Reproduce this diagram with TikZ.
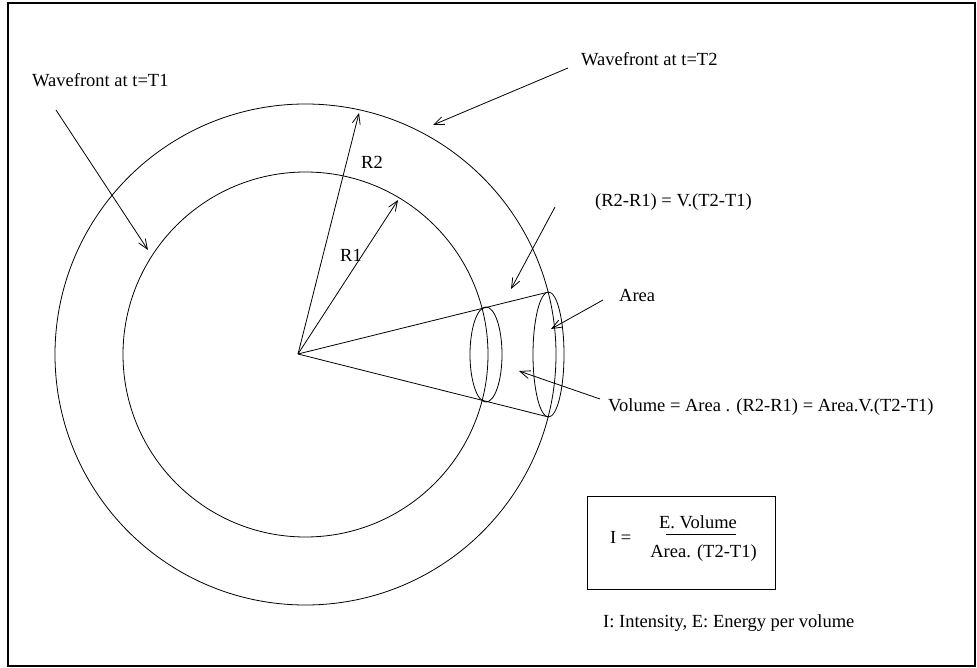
\documentclass[tikz,border=0pt]{standalone}
\usepackage{fontspec}
\setmainfont{Liberation Serif}
\usetikzlibrary{arrows.meta, positioning}
\tikzset{
  lbl/.style={inner sep=0pt, font=\fontsize{18.5}{22}\selectfont, text=black},
  ptr/.style={-{Straight Barb[length=10pt, width=8pt]}, line width=0.8pt},
  wire/.style={line width=0.8pt},
  formulabox/.style={rectangle, draw, line width=0.9pt, minimum width=188pt, minimum height=93pt, inner sep=0pt}
}

\begin{document}
\begin{tikzpicture}[x=1pt, y=-1pt]
\useasboundingbox (0,0) rectangle (977,668);

% ── Frame ─────────────────────────────────────────────
\draw[line width=1.2pt] (8,3) rectangle (975,666);

% ── Wavefronts ────────────────────────────────────────
\coordinate (ctr)  at (305.5, 354.5);
\coordinate (apex) at (298, 354);
\draw[wire] (ctr) circle[radius=182.5pt];
\draw[wire] (ctr) circle[radius=250.5pt];

% ── Radii ─────────────────────────────────────────────
\coordinate (r2tip) at (359, 113);
\coordinate (r1tip) at (398, 200);
\draw[ptr] (apex) -- (r2tip);
\draw[ptr] (apex) -- (r1tip);
\node[lbl] (r2) at (372, 162) {R2};
\node[lbl] (r1) at (351, 255) {R1};

% ── Cone and cross sections ───────────────────────────
\coordinate (conetop) at (548.5, 292);
\coordinate (conebot) at (548.5, 417);
\draw[wire] (apex) -- (conetop);
\draw[wire] (apex) -- (conebot);
\draw[wire] (486, 354.5) ellipse[x radius=16pt, y radius=47.5pt];
\draw[wire] (548.5, 354.5) ellipse[x radius=15.5pt, y radius=62.5pt];

% ── Labels ────────────────────────────────────────────
\node[lbl, anchor=west] (wf1)  at (32, 80)   {Wavefront at t=T1};
\node[lbl, anchor=west] (wf2)  at (581, 59)  {Wavefront at t=T2};
\node[lbl, anchor=west] (diff) at (595, 202) {(R2-R1) = V.(T2-T1)};
\node[lbl, anchor=west] (area) at (619, 295) {Area};
\node[lbl, anchor=west] (vol)  at (608, 407) {Volume = Area . (R2-R1) = Area.V.(T2-T1)};
\node[lbl, anchor=west] (note) at (603, 623) {I: Intensity, E: Energy per volume};

% ── Pointers ──────────────────────────────────────────
\coordinate (wf1tail)  at (56, 110);
\coordinate (wf1head)  at (148, 250);
\coordinate (wf2tail)  at (568, 68);
\coordinate (wf2head)  at (433, 125);
\coordinate (difftail) at (555, 207);
\coordinate (diffhead) at (511, 289);
\coordinate (areatail) at (603, 300);
\coordinate (areahead) at (551, 329);
\coordinate (voltail)  at (600, 399);
\coordinate (volhead)  at (519, 371);
\draw[ptr] (wf1tail)  -- (wf1head);
\draw[ptr] (wf2tail)  -- (wf2head);
\draw[ptr] (difftail) -- (diffhead);
\draw[ptr] (areatail) -- (areahead);
\draw[ptr] (voltail)  -- (volhead);

% ── Intensity formula ─────────────────────────────────
\node[formulabox] (box) at (681, 542.5) {};
\node[lbl, anchor=west] (ieq) at (610, 537) {I =};
\node[lbl] (num) at (698, 522) {E. Volume};
\node[lbl] (den) at (703.5, 553) {Area. (T2-T1)};
\draw[wire] (666, 534) -- (736, 534);

\end{tikzpicture}
\end{document}
